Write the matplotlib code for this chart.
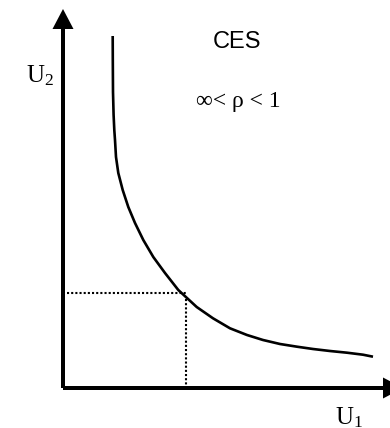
import numpy as np
from matplotlib import pyplot as plt

plt.rcParams['mathtext.fontset'] = 'custom'
plt.rcParams['mathtext.rm'] = 'Liberation Serif'
plt.rcParams['mathtext.it'] = 'Liberation Serif:italic'

# indifference curve (U1, U2)
u1_curve = [4.97, 4.98, 5.0, 5.06, 5.13, 5.2, 5.3, 5.53, 5.97, 6.53, 7.2, 8.03,
            9.03, 10.2, 11.53, 13.37, 15.0, 16.7, 18.4, 20.0, 21.7, 23.4, 25.0,
            26.7, 28.4, 30.0, 31.0]
u2_curve = [35.2, 32.8, 29.6, 27.3, 25.8, 24.8, 23.1, 21.5, 19.8, 18.1, 16.5, 14.8,
            13.1, 11.5, 9.8, 8.1, 6.97, 5.97, 5.3, 4.8, 4.4, 4.13, 3.9,
            3.7, 3.53, 3.33, 3.13]
# marked point on the curve
u1_mark = 12.3
u2_mark = 9.5

title = 'CES'
rho_label = '∞< ρ < 1'
xlabel = r'$\mathrm{U}_1$'
ylabel = r'$\mathrm{U}_2$'

fig = plt.figure(figsize=(3.9, 4.28), dpi=100)
ax = fig.add_axes([0, 0, 1, 1])
ax.set_xlim(-6.3, 32.7)
ax.set_ylim(-4.0, 38.8)
ax.axis('off')

# axes with arrow heads
ax.arrow(0, 0, 0, 37.9, width=0.4, head_width=2.1, head_length=2.0,
         length_includes_head=True, color='k', lw=0)
ax.arrow(0, 0, 34.0, 0, width=0.4, head_width=2.1, head_length=2.0,
         length_includes_head=True, color='k', lw=0)

ax.plot(u1_curve, u2_curve, color='k', lw=1.9, solid_capstyle='butt', solid_joinstyle='round')

# dotted guides to the marked point
ax.plot([0.4, u1_mark], [u2_mark, u2_mark], color='k', lw=1.5, linestyle=(0, (1, 1)))
ax.plot([u1_mark, u1_mark], [u2_mark - 0.6, 0.2], color='k', lw=1.5, linestyle=(0, (1, 1)))

ax.text(17.4, 34.6, title, family='Liberation Sans', fontsize=17, ha='center', va='center')
ax.text(17.5, 28.6, rho_label, family='Liberation Serif', fontsize=17, ha='center', va='center')
ax.text(-2.3, 31.2, ylabel, fontsize=18, ha='center', va='center')
ax.text(28.6, -3.0, xlabel, fontsize=18, ha='center', va='center')

plt.savefig('out.png', dpi=100)
